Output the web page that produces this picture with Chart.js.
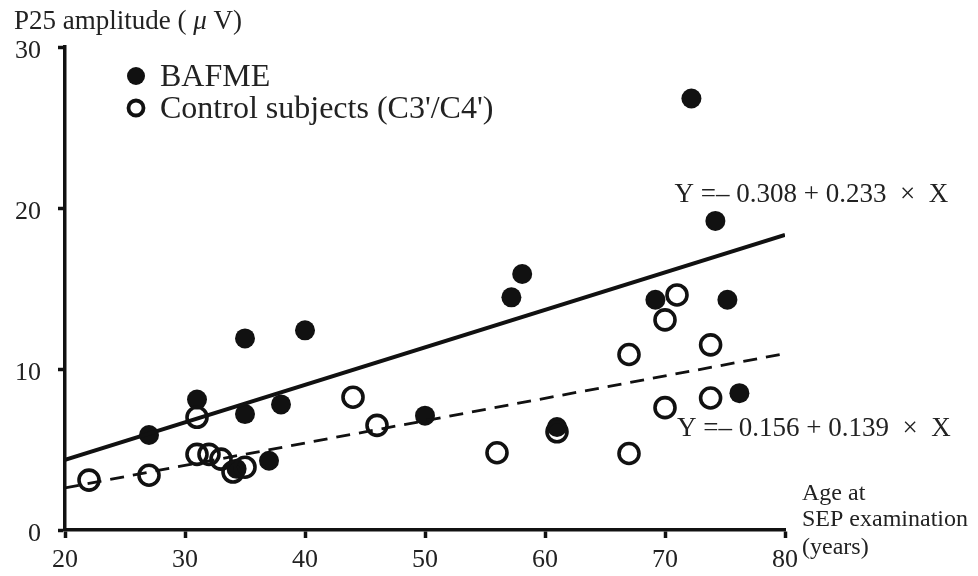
<!DOCTYPE html>
<html>
<head>
<meta charset="utf-8">
<style>
  html, body { margin: 0; padding: 0; background: #fff; }
  #wrap { width: 978px; height: 576px; }
</style>
<script src="https://cdn.jsdelivr.net/npm/chart.js@4/dist/chart.umd.min.js"></script>
</head>
<body>
<div id="wrap"><canvas id="myChart" width="978" height="576"></canvas></div>
<script>
// values
const bafmeAge = [27, 31, 35, 35, 37, 38, 40, 34.3, 50, 57.2, 58.1, 61, 69.2, 72.2, 74.2, 75.2, 76.2];
const bafmeAmp = [5.9, 8.1, 7.2, 11.9, 4.3, 7.8, 12.4, 3.8, 7.1, 14.45, 15.9, 6.4, 14.3, 26.8, 19.2, 14.3, 8.5];

const controlAge = [22, 27, 31, 31, 32, 33, 34, 35, 44, 46, 56, 61, 67, 67, 70, 70, 71, 73.8, 73.8];
const controlAmp = [3.1, 3.4, 7.0, 4.7, 4.7, 4.4, 3.6, 3.9, 8.25, 6.5, 4.8, 6.1, 10.9, 4.75, 13.05, 7.6, 14.6, 11.5, 8.2];

// regression line end points
const fitAge = [20, 80];
const bafmeFit = [4.35, 18.33];
const controlFit = [2.62, 10.96];

const xTicks = [20, 30, 40, 50, 60, 70, 80];
const yTicks = [0, 10, 20, 30];

const bafmeEq = 'Y =\u2013 0.308 + 0.233  \u00d7  X';
const controlEq = 'Y =\u2013 0.156 + 0.139  \u00d7  X';

function pts(xs, ys) {
    return xs.map(function (x, i) { return { x: x, y: ys[i] }; });
}

const serif = '"Liberation Serif", "Times New Roman", serif';

const textPlugin = {
    id: 'texts',
    afterDraw: function (chart) {
        const ctx = chart.ctx;
        const xs = chart.scales.x;
        const ys = chart.scales.y;
        ctx.save();
        ctx.fillStyle = '#222';
        ctx.textBaseline = 'middle';
        ctx.textAlign = 'left';

        // y axis title
        ctx.font = '27px ' + serif;
        let tx = 14;
        const a = 'P25 amplitude ( ';
        ctx.fillText(a, tx, 22);
        tx += ctx.measureText(a).width;
        ctx.font = 'italic 27px ' + serif;
        ctx.fillText('\u03bc', tx, 22);
        tx += ctx.measureText('\u03bc').width;
        ctx.font = '27px ' + serif;
        ctx.fillText(' V)', tx, 22);

        // legend
        const ds0 = chart.data.datasets[0];
        const ds1 = chart.data.datasets[1];
        ctx.beginPath();
        ctx.arc(136, 76, 9, 0, Math.PI * 2);
        ctx.fillStyle = ds0.backgroundColor;
        ctx.fill();
        ctx.beginPath();
        ctx.arc(136, 108, 7.5, 0, Math.PI * 2);
        ctx.lineWidth = 3.8;
        ctx.strokeStyle = ds1.borderColor;
        ctx.stroke();
        ctx.fillStyle = '#222';
        ctx.font = '32px ' + serif;
        ctx.fillText(ds0.label, 160, 78);
        ctx.fillText(ds1.label, 160, 110);

        // equations
        ctx.font = '27px ' + serif;
        ctx.fillText(bafmeEq, xs.getPixelForValue(70.8), ys.getPixelForValue(20.8));
        ctx.fillText(controlEq, xs.getPixelForValue(71), ys.getPixelForValue(6.3));

        // x axis title
        ctx.font = '24px ' + serif;
        const rx = chart.chartArea.right + 17;
        ctx.fillText('Age at', rx, 494);
        ctx.fillText('SEP examination', rx, 520);
        ctx.fillText('(years)', rx, 548);
        ctx.restore();
    }
};

const ctx = document.getElementById('myChart').getContext('2d');
const chart = new Chart(ctx, {
    type: 'scatter',
    data: {
        datasets: [{
            label: 'BAFME',
            data: pts(bafmeAge, bafmeAmp),
            backgroundColor: '#111',
            borderColor: '#111',
            borderWidth: 0,
            pointRadius: 10,
            order: 3
        }, {
            label: "Control subjects (C3'/C4')",
            data: pts(controlAge, controlAmp),
            backgroundColor: 'rgba(0,0,0,0)',
            borderColor: '#111',
            borderWidth: 3.6,
            pointRadius: 10,
            order: 2
        }, {
            type: 'line',
            label: 'BAFME fit',
            data: pts(fitAge, bafmeFit),
            borderColor: '#111',
            borderWidth: 4,
            pointRadius: 0,
            order: 1
        }, {
            type: 'line',
            label: 'Control fit',
            data: pts(fitAge, controlFit),
            borderColor: '#111',
            borderWidth: 2.8,
            borderDash: [14, 9],
            pointRadius: 0,
            order: 0
        }]
    },
    options: {
        responsive: false,
        animation: false,
        layout: { padding: { top: 47, right: 193, left: 0, bottom: 0 } },
        plugins: {
            legend: { display: false },
            tooltip: { enabled: false }
        },
        scales: {
            x: {
                type: 'linear',
                min: 20,
                max: 80,
                afterFit: function (s) { s.height = 46; },
                afterBuildTicks: function (s) { s.ticks = xTicks.map(function (v) { return { value: v }; }); },
                border: { color: '#111', width: 3.5 },
                grid: { drawOnChartArea: false, drawTicks: true, tickLength: 8, tickWidth: 3.5, color: '#111' },
                ticks: { color: '#222', font: { family: serif, size: 26 }, padding: 7 }
            },
            y: {
                min: 0,
                max: 30,
                afterFit: function (s) { s.width = 65; },
                afterBuildTicks: function (s) { s.ticks = yTicks.map(function (v) { return { value: v }; }); },
                border: { color: '#111', width: 3.5 },
                grid: { drawOnChartArea: false, drawTicks: true, tickLength: 7, tickWidth: 3.5, color: '#111' },
                ticks: { color: '#222', font: { family: serif, size: 26 }, padding: 17, labelOffset: 4 }
            }
        }
    },
    plugins: [textPlugin]
});
</script>
</body>
</html>
